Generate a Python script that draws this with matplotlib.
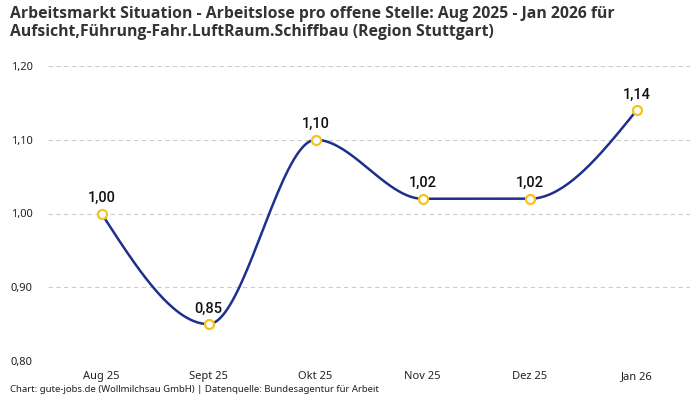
import numpy as np
import matplotlib
matplotlib.use("Agg")
import matplotlib.pyplot as plt

# data
months = ["Aug 25", "Sept 25", "Okt 25", "Nov 25", "Dez 25", "Jan 26"]
values = [1.00, 0.85, 1.10, 1.02, 1.02, 1.14]
yticks = [0.80, 0.90, 1.00, 1.10, 1.20]

title = ("Arbeitsmarkt Situation - Arbeitslose pro offene Stelle: Aug 2025 - Jan 2026 für\n"
         "Aufsicht,Führung-Fahr.LuftRaum.Schiffbau (Region Stuttgart)")
footer = "Chart: gute-jobs.de (Wollmilchsau GmbH) | Datenquelle: Bundesagentur für Arbeit"

line_col = "#1f2f8c"
dot_col = "#f6c21c"


def monotone_curve(x, y, n=40):
    # monotone cubic (like d3 curveMonotoneX)
    x = np.asarray(x, float)
    y = np.asarray(y, float)
    h = np.diff(x)
    s = np.diff(y) / h
    m = np.zeros(len(x))
    for i in range(1, len(x) - 1):
        p = (s[i - 1] * h[i] + s[i] * h[i - 1]) / (h[i - 1] + h[i])
        m[i] = (np.sign(s[i - 1]) + np.sign(s[i])) * min(abs(s[i - 1]), abs(s[i]), 0.5 * abs(p))
    m[0] = (3 * s[0] - m[1]) / 2
    m[-1] = (3 * s[-1] - m[-2]) / 2
    xs, ys = [], []
    for i in range(len(x) - 1):
        t = np.linspace(0, 1, n)
        h00 = 2 * t**3 - 3 * t**2 + 1
        h10 = t**3 - 2 * t**2 + t
        h01 = -2 * t**3 + 3 * t**2
        h11 = t**3 - t**2
        xs.append(x[i] + t * h[i])
        ys.append(h00 * y[i] + h10 * h[i] * m[i] + h01 * y[i + 1] + h11 * h[i] * m[i + 1])
    return np.concatenate(xs), np.concatenate(ys)


plt.rcParams['font.family'] = ['Noto Sans', 'DejaVu Sans']

fig = plt.figure(figsize=(7, 4), dpi=100)
ax = fig.add_axes([0.0686, 0.0975, 0.9174, 0.7375])

xpos = np.arange(len(months))
cx, cy = monotone_curve(xpos, values)
ax.plot(cx, cy, color=line_col, lw=1.8, zorder=3)
ax.plot(xpos, values, "o", ms=6.5, mfc="white", mec=dot_col, mew=1.6, zorder=4)

for xi, v in zip(xpos, values):
    ax.annotate(f"{v:.2f}".replace(".", ","), (xi, v), xytext=(0, 6),
                textcoords="offset points", ha="center", va="bottom",
                fontsize=10.5, fontweight="medium", family=["Roboto", "DejaVu Sans"],
                color="#111111")

ax.set_xlim(-0.5, len(months) - 0.5)
ax.set_ylim(0.80, 1.20)
ax.set_xticks(xpos)
ax.set_xticklabels(months)
ax.set_yticks(yticks)
ax.set_yticklabels([f"{t:.2f}".replace(".", ",") for t in yticks])
ax.tick_params(axis="both", length=0, labelsize=8, colors="#222222")
ax.tick_params(axis="y", pad=11)
ax.tick_params(axis="x", pad=7)
ax.grid(axis="y", color="#cccccc", ls=(0, (4, 3)), lw=0.8)
for sp in ax.spines.values():
    sp.set_visible(False)

fig.text(0.014, 0.985, title, ha="left", va="top", fontsize=11.3, fontweight="bold",
         family=["Open Sans", "DejaVu Sans"], color="#333333", linespacing=1.15)
fig.text(0.014, 0.015, footer, ha="left", va="bottom", fontsize=6.9, color="#222222")

fig.savefig("out.png", dpi=100)
